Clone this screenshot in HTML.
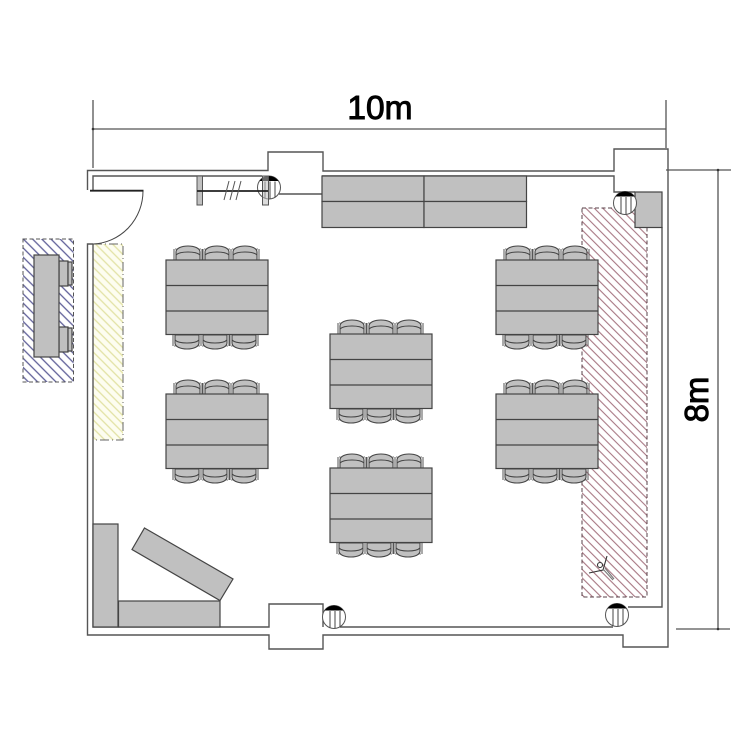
<!DOCTYPE html>
<html><head><meta charset="utf-8"><style>
html,body{margin:0;padding:0;background:#fff}
svg{display:block}
</style></head><body>
<svg width="750" height="750" viewBox="0 0 750 750" xmlns="http://www.w3.org/2000/svg">
<defs>
<pattern id="hr" width="6" height="6" patternUnits="userSpaceOnUse" patternTransform="rotate(45)"><rect width="6" height="6" fill="#fff"/><line x1="0" y1="3" x2="6" y2="3" stroke="#a87884" stroke-width="1.100"/></pattern>
<pattern id="hb" width="6.500" height="6.500" patternUnits="userSpaceOnUse" patternTransform="rotate(45)"><rect width="6.500" height="6.500" fill="#fff"/><line x1="0" y1="3" x2="6.500" y2="3" stroke="#5f5f98" stroke-width="1.300"/></pattern>
<pattern id="hy" width="6" height="6" patternUnits="userSpaceOnUse" patternTransform="rotate(45)"><rect width="6" height="6" fill="#fdfdf0"/><line x1="0" y1="3" x2="6" y2="3" stroke="#e2e2a4" stroke-width="1.300"/></pattern>
<g id="ch">
<path d="M2 14V6C2 2 8 0 14 0C20 0 26 2 26 6V14Z" fill="#c0c0c0" stroke="#444" stroke-width="1.100"/>
<path d="M2 9C6 5 22 5 26 9" fill="none" stroke="#444" stroke-width="1.100"/>
<path d="M0 14V3M28 14V3" fill="none" stroke="#555" stroke-width="1"/>
<path d="M1 3H2.500M25.500 3H27" stroke="#777" stroke-width="1"/>
</g>
<g id="chb"><use href="#ch" transform="matrix(1 0 0 -1 0 14)"/></g>
<g id="tb">
<use href="#ch" x="8" y="-14"/><use href="#ch" x="37" y="-14"/><use href="#ch" x="65" y="-14"/>
<use href="#chb" x="7" y="75"/><use href="#chb" x="35" y="75"/><use href="#chb" x="64" y="75"/>
<rect x="0" y="0" width="102" height="74.500" fill="#c0c0c0" stroke="#444" stroke-width="1.200"/>
<path d="M0 25.500H102M0 51H102" stroke="#444" stroke-width="1.200" fill="none"/>
</g>
<g id="col">
<circle r="11.500" fill="#fff" stroke="#555" stroke-width="1"/>
<path d="M-9.500 -6.500A11.500 11.500 0 0 1 9.500 -6.500Z" fill="#000"/>
<path d="M-4 -6V10.500M1 -6V11.500M6 -6V10" stroke="#444" stroke-width="1" fill="none"/>
</g>
</defs>

<!-- dimensions -->
<g stroke="#555" stroke-width="1.300" fill="none">
<path d="M93 100V168M666 100V148M93 129H666"/>
<path d="M666 170H731M676 629H730M718 170V629"/>
</g>
<circle cx="93" cy="129" r="1.300" fill="#333"/><circle cx="718" cy="170" r="1.300" fill="#333"/><circle cx="718" cy="629" r="1.300" fill="#333"/>
<text x="380" y="119" text-anchor="middle" font-family="'Liberation Sans',sans-serif" font-size="33.500" fill="#000" stroke="#000" stroke-width="1">10m</text>
<text transform="translate(708 399.500) rotate(-90)" text-anchor="middle" font-family="'Liberation Sans',sans-serif" font-size="33" fill="#000" stroke="#000" stroke-width="1">8m</text>

<!-- hatch zones -->
<rect x="582" y="208" width="65" height="389" fill="url(#hr)" stroke="#5a4048" stroke-width="1" stroke-dasharray="4 2.500"/>
<rect x="23" y="239" width="50.500" height="143" fill="url(#hb)" stroke="#555" stroke-width="1" stroke-dasharray="4 2.500"/>
<rect x="93" y="244" width="30" height="196" fill="url(#hy)" stroke="#666" stroke-width="1" stroke-dasharray="9 3 1 3"/>

<!-- walls -->
<g stroke="#555" stroke-width="1.400" fill="none">
<path d="M87.500 190V170.500H268V152H323V171H614V149H668V647H623V635H323V649H269V635H87.500V244H93"/>
<path d="M93 190V176H262M279 194H322M322 176H614V192H635M662 227V607H628M613 627H340M323 627V604H269V627H93V244"/>
</g>
<path d="M143 191A52 53 0 0 1 93 244" fill="none" stroke="#444" stroke-width="1"/>
<path d="M90 190.700H143.500" stroke="#222" stroke-width="1.800"/>

<!-- cabinets -->
<g fill="#c0c0c0" stroke="#444" stroke-width="1.200">
<rect x="322" y="176" width="102" height="25.500"/><rect x="424" y="176" width="102.500" height="25.500"/>
<rect x="322" y="201.500" width="102" height="26"/><rect x="424" y="201.500" width="102.500" height="26"/>
<rect x="635" y="192" width="27" height="35.500"/>
<rect x="93" y="524" width="25" height="103"/>
<rect x="118.500" y="601" width="101.500" height="26"/>
<path d="M144.500 528L233 579L220 600.500L132 549.500Z"/>
<rect x="59" y="261" width="9" height="25"/><rect x="59" y="327" width="9" height="25"/>
<rect x="68" y="262" width="4" height="23"/><rect x="68" y="328" width="4" height="23"/>
<rect x="34" y="255" width="25" height="102"/>
</g>

<!-- columns -->
<use href="#col" x="269" y="187.500"/>
<use href="#col" x="625" y="203"/>
<use href="#col" x="617" y="615"/>
<use href="#col" x="334" y="617"/>

<!-- rack -->
<rect x="197" y="176" width="5.500" height="29" fill="#c0c0c0" stroke="#555"/>
<rect x="262.500" y="176" width="6" height="29" fill="#c0c0c0" fill-opacity=".55" stroke="#555"/>
<path d="M197 191H268" stroke="#222" stroke-width="1.800"/>
<path d="M229 181L224 200M235 181L230 200M241 181L236 200" stroke="#555" stroke-width="1"/>

<!-- tables -->
<use href="#tb" x="166" y="260"/>
<use href="#tb" x="166" y="394"/>
<use href="#tb" x="330" y="334"/>
<use href="#tb" x="330" y="468"/>
<use href="#tb" x="496" y="260"/>
<use href="#tb" x="496" y="394"/>

<!-- person -->
<g fill="none" stroke="#333" stroke-width="1.100">
<circle cx="600" cy="565" r="2.500" fill="#fff"/>
<path d="M589 573L603 570L607 556"/>
<path d="M603 569L613 580M605 568L614 579" stroke="#777"/>
</g>
</svg>
</body></html>
